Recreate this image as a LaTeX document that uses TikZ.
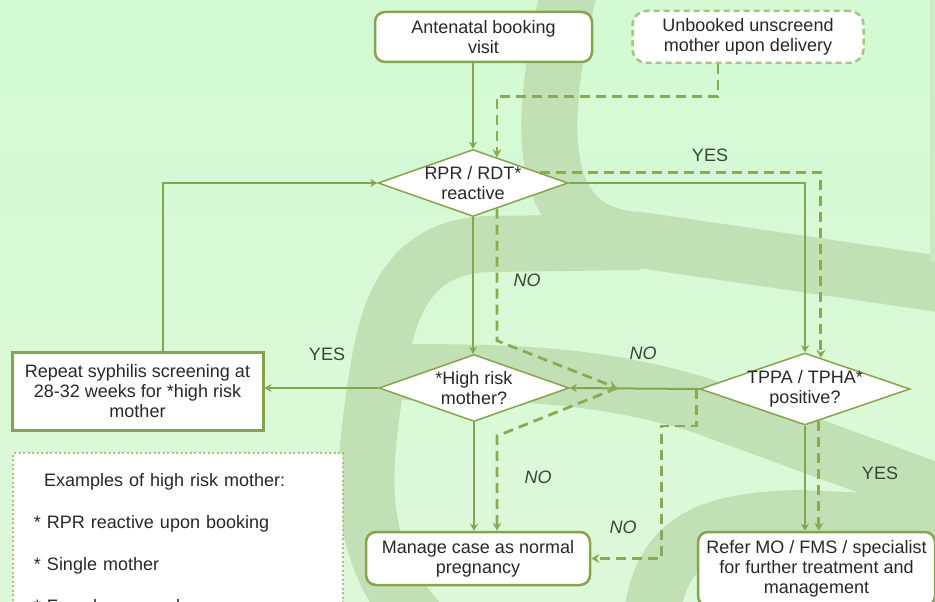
\documentclass[tikz,border=0pt]{standalone}
\usepackage{fontspec}
\setmainfont{Liberation Sans}
\usetikzlibrary{shapes.geometric,arrows.meta,calc}

\definecolor{bgtop}{RGB}{211,250,211}
\definecolor{bgbot}{RGB}{221,248,217}
\definecolor{bandc}{RGB}{194,224,182}
\definecolor{linec}{RGB}{134,163,78}
\definecolor{dashc}{RGB}{140,170,86}
\definecolor{softc}{RGB}{166,196,130}
\definecolor{txt}{RGB}{40,40,40}
\definecolor{lblc}{RGB}{58,70,58}

\begin{document}
\begin{tikzpicture}[x=1pt,y=-1pt,
  every node/.style={font=\fontsize{18}{20}\selectfont, text=txt},
  box/.style={draw=linec, line width=2.5pt, fill=white, rounded corners=10pt,
    inner sep=0pt, align=center},
  dia/.style={diamond, draw=linec, line width=1.5pt, fill=white,
    inner xsep=-40pt, inner ysep=-15pt, align=center},
  link/.style={draw=linec, line width=2pt, -{Stealth[length=7pt,width=8pt]}},
  dlink/.style={draw=dashc, line width=2.8pt, dash pattern=on 10pt off 6pt,
    -{Stealth[length=8pt,width=9pt]}},
  lab/.style={text=lblc},
  nolab/.style={text=lblc, font=\fontsize{18}{20}\selectfont\itshape},
  band/.style={draw=bandc, line width=56pt, line cap=butt}
]
\useasboundingbox (0,0) rectangle (935,602);
\clip (0,0) rectangle (935,602);

% background and watermark bands
\shade[top color=bgtop, bottom color=bgbot] (0,0) rectangle (935,602);
\draw[band] (574,-30) .. controls (542,100) and (522,235) .. (640,240) -- (960,287);
\draw[band] (640,242) -- (490,244) .. controls (400,246) and (385,320) .. (375,390)
  .. controls (362,480) and (350,570) .. (450,650);
\draw[band] (400,372) .. controls (520,372) and (600,375) .. (700,405) -- (960,500);
\draw[band] (650,650) .. controls (650,550) and (690,520) .. (800,518) -- (960,525);
\fill[bandc!60!bgtop] (930,0) rectangle (935,262);

% boxes
\node[box, minimum width=217, minimum height=50] (antenatal) at (483.5,37)
  {Antenatal booking\\visit};
\node[box, draw=softc, dash pattern=on 6pt off 4pt, rounded corners=14pt,
  minimum width=231, minimum height=52] (unbooked) at (748,37)
  {Unbooked unscreend\\mother upon delivery};
\node[dia, minimum width=190, minimum height=67] (rpr) at (473,183)
  {RPR / RDT*\\reactive};
\node[dia, minimum width=190, minimum height=67] (risk) at (474,388)
  {*High risk\\mother?};
\node[dia, minimum width=210, minimum height=72] (tppa) at (805,389)
  {TPPA / TPHA*\\positive?};
\node[box, rounded corners=0pt, line width=3pt, minimum width=251,
  minimum height=78] (repeat) at (137.5,391)
  {Repeat syphilis screening at\\28-32 weeks for *high risk\\mother};
\node[box, minimum width=224, minimum height=53] (manage) at (478,558.5)
  {Manage case as normal\\pregnancy};
\node[box, minimum width=237, minimum height=74] (refer) at (816.5,569)
  {Refer MO / FMS / specialist\\for further treatment and\\management};
\node[draw=softc, line width=2pt, dash pattern=on 2pt off 2.5pt, fill=white,
  anchor=north west, align=left, text width=288pt, inner xsep=21pt,
  inner ysep=16pt, minimum height=180] (examples) at (12,452)
  {\hspace*{10pt}Examples of high risk mother:\\[22pt]
   * RPR reactive upon booking\\[22pt]
   * Single mother\\[22pt]
   * Female sex worker};

% branch labels
\node[lab] (yesA) at (710,155) {YES};
\node[nolab] (noA) at (527,280) {NO};
\node[lab] (yesB) at (327,354) {YES};
\node[nolab] (noB) at (643,353) {NO};
\node[nolab] (noC) at (538,477) {NO};
\node[nolab] (noD) at (623,527) {NO};
\node[lab] (yesC) at (880,473) {YES};

% helper points on the diamond edges
\coordinate (rprA) at ($(rpr.north)!0.25!(rpr.east)$);
\coordinate (rprB) at ($(rpr.north)!0.70!(rpr.east)$);
\coordinate (rprC) at ($(rpr.south)!0.25!(rpr.east)$);
\coordinate (tppaA) at ($(tppa.north)!0.15!(tppa.east)$);
\coordinate (tppaB) at ($(tppa.south)!0.13!(tppa.east)$);
\coordinate (cross) at (617,388);
\coordinate (bend) at (497,436);

% solid connectors
\draw[link] (rpr.north |- antenatal.south) -- (rpr.north);
\draw[link] (rpr.east) -| (tppa.north);
\draw[link] (rpr.south) -- (rpr.south |- risk.north);
\draw[link] (risk.west) -- (risk.west -| repeat.east);
\draw[link] ([xshift=25pt]repeat.north) |- (rpr.west);
\draw[link] (risk.south) -- (risk.south |- manage.north);
\draw[link] (tppa.west) -- (risk.east);
\draw[link] (tppa.south) -- (tppa.south |- refer.north);

% dashed connectors
\draw[dlink] ([xshift=-30pt]unbooked.south) -- ++(0,32) -| (rprA);
\draw[dlink] (rprB) -| (tppaA);
\draw[dlink] (rprC) -- ++(0,132) -- (cross);
\draw[dlink] (cross) -- (bend) -- (bend |- manage.north);
\draw[dlink] ([xshift=-3pt]tppa.west) -- ++(0,37) -- ++(-35,0) |- (manage.east);
\draw[dlink] (tppaB) -- (tppaB |- refer.north);
\end{tikzpicture}
\end{document}
